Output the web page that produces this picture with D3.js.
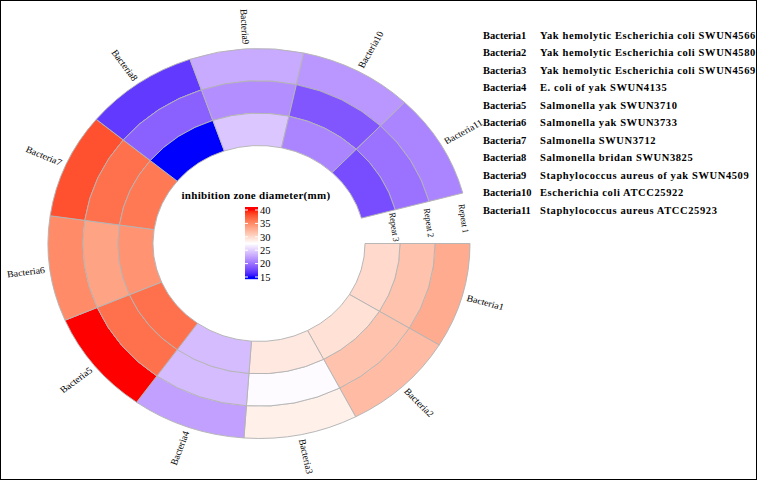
<!DOCTYPE html>
<html>
<head>
<meta charset="utf-8">
<script src="https://cdn.jsdelivr.net/npm/d3@7"></script>
<style>
  body { margin: 0; background: #fff; }
  text { font-family: "Liberation Serif", "DejaVu Serif", serif; }
</style>
</head>
<body>
<script>
// circular heatmap of inhibition zones

var width = 757;
var height = 480;

var bacteria = ["Bacteria1", "Bacteria2", "Bacteria3", "Bacteria4", "Bacteria5", "Bacteria6",
  "Bacteria7", "Bacteria8", "Bacteria9", "Bacteria10", "Bacteria11"];
var descriptions = [
  "Yak hemolytic Escherichia coli SWUN4566",
  "Yak hemolytic Escherichia coli SWUN4580",
  "Yak hemolytic Escherichia coli SWUN4569",
  "E. coli of yak SWUN4135",
  "Salmonella yak SWUN3710",
  "Salmonella yak SWUN3733",
  "Salmonella SWUN3712",
  "Salmonella bridan SWUN3825",
  "Staphylococcus aureus of yak SWUN4509",
  "Escherichia coli ATCC25922",
  "Staphylococcus aureus ATCC25923"
];
var repeats = ["Repeat 1", "Repeat 2", "Repeat 3"];

// values (mm)
var repeat1 = [33, 32, 28.5, 22.5, 40, 35, 38, 17, 23, 22, 21];
var repeat2 = [31.5, 31.5, 27.3, 24, 36.5, 33.5, 36.5, 19, 21.5, 18.5, 20];
var repeat3 = [30, 29.5, 29, 24, 36.5, 34.5, 36, 15, 24.5, 21, 18];

var legendTicks = [40, 35, 30, 25, 20, 15];

var cells = [];
[repeat1, repeat2, repeat3].forEach(function(vals, j){
  vals.forEach(function(v, i){
    cells.push({b: bacteria[i], rep: repeats[j], value: v});
  });
});

var svg = d3.select("body").append("svg")
    .attr("width", width)
    .attr("height", height);

svg.append("rect")
    .attr("x", 0.5).attr("y", 0.5)
    .attr("width", width - 1).attr("height", height - 1)
    .attr("fill", "none").attr("stroke", "#000");

var color = d3.scaleLinear()
    .domain([15, 27.5, 40])
    .range(["#0000ff", "#ffffff", "#ff0000"])
    .interpolate(d3.interpolateLab)
    .clamp(true);

var gapDeg = 15;
var angle = d3.scaleBand()
    .domain(bacteria)
    .range([Math.PI / 2, Math.PI / 2 + (360 - gapDeg) * Math.PI / 180]);

var radius = d3.scaleBand()
    .domain(repeats)
    .range([211, 106]);

var arc = d3.arc()
    .innerRadius(function(d){ return radius(d.rep); })
    .outerRadius(function(d){ return radius(d.rep) + radius.bandwidth(); })
    .startAngle(function(d){ return angle(d.b); })
    .endAngle(function(d){ return angle(d.b) + angle.bandwidth(); });

var g = svg.append("g")
    .attr("transform", "translate(259,243.5) scale(1,0.924)");

g.selectAll(".cell")
    .data(cells)
  .enter().append("path")
    .attr("class", "cell")
    .attr("d", arc)
    .attr("fill", function(d){ return color(d.value); })
    .attr("stroke", "#b4b4b4")
    .attr("stroke-width", 1);

// sector labels
var labelR = 216;
g.selectAll(".blabel")
    .data(bacteria)
  .enter().append("text")
    .attr("class", "blabel")
    .attr("font-size", 10)
    .attr("dominant-baseline", "central")
    .attr("transform", function(d){
      var t = angle(d) + angle.bandwidth() / 2;
      var x = labelR * Math.sin(t), y = -labelR * Math.cos(t);
      var deg = t * 180 / Math.PI - 90;
      if (deg > 90 && deg < 270) deg -= 180;
      return "translate(" + x + "," + y + ") rotate(" + deg + ")";
    })
    .attr("text-anchor", function(d){
      var deg = (angle(d) + angle.bandwidth() / 2) * 180 / Math.PI - 90;
      return (deg > 90 && deg < 270) ? "end" : "start";
    })
    .text(function(d){ return d; });

// track labels in the gap
g.selectAll(".rlabel")
    .data(repeats)
  .enter().append("text")
    .attr("class", "rlabel")
    .attr("font-size", 9)
    .attr("text-anchor", "middle")
    .attr("dominant-baseline", "central")
    .attr("transform", function(d){
      var t = (90 - gapDeg / 2) * Math.PI / 180;
      var r = radius(d) + radius.bandwidth() - 4.5;
      var x = r * Math.sin(t), y = -r * Math.cos(t);
      return "translate(" + x + "," + y + ") rotate(" + (90 - gapDeg / 2) + ")";
    })
    .text(function(d){ return d; });

// colour legend
var legend = svg.append("g");
legend.append("text")
    .attr("x", 256).attr("y", 195)
    .attr("text-anchor", "middle")
    .attr("dominant-baseline", "central")
    .attr("font-size", 11)
    .attr("letter-spacing", 0.3)
    .attr("font-weight", "bold")
    .text("inhibition zone diameter(mm)");

var barY = d3.scaleLinear().domain([15, 40]).range([277, 210]);
var barTop = 207, barBottom = 279, barX = 245, barW = 13;
var steps = d3.range(barTop, barBottom, 1);
legend.selectAll(".step")
    .data(steps)
  .enter().append("rect")
    .attr("class", "step")
    .attr("x", barX)
    .attr("y", function(d){ return d; })
    .attr("width", barW)
    .attr("height", 1.2)
    .attr("fill", function(d){ return color(barY.invert(d + 0.5)); });

var axis = d3.axisRight(barY)
    .tickValues(legendTicks)
    .tickSize(0)
    .tickPadding(2);
var ax = legend.append("g")
    .attr("transform", "translate(" + (barX + barW) + ",0)")
    .call(axis);
ax.select(".domain").remove();
ax.selectAll("text")
    .attr("font-size", 10.5)
    .attr("fill", "#000")
    .style("font-family", "'Liberation Serif', serif");

legendTicks.forEach(function(v){
  legend.append("line")
      .attr("x1", barX).attr("x2", barX + 3)
      .attr("y1", barY(v)).attr("y2", barY(v))
      .attr("stroke", "#fff");
  legend.append("line")
      .attr("x1", barX + barW - 3).attr("x2", barX + barW)
      .attr("y1", barY(v)).attr("y2", barY(v))
      .attr("stroke", "#fff");
});

// name table on the right
var rowY = d3.scalePoint().domain(bacteria).range([35, 210]);
var table = svg.append("g")
    .attr("font-size", 10.5)
    .attr("font-weight", "bold");
table.selectAll(".name")
    .data(bacteria)
  .enter().append("text")
    .attr("x", 483)
    .attr("y", function(d){ return rowY(d); })
    .attr("dominant-baseline", "central")
    .text(function(d){ return d; });
table.selectAll(".desc")
    .data(descriptions)
  .enter().append("text")
    .attr("x", 540)
    .attr("y", function(d, i){ return rowY(bacteria[i]); })
    .attr("dominant-baseline", "central")
    .attr("letter-spacing", 0.6)
    .text(function(d){ return d; });
</script>
</body>
</html>
